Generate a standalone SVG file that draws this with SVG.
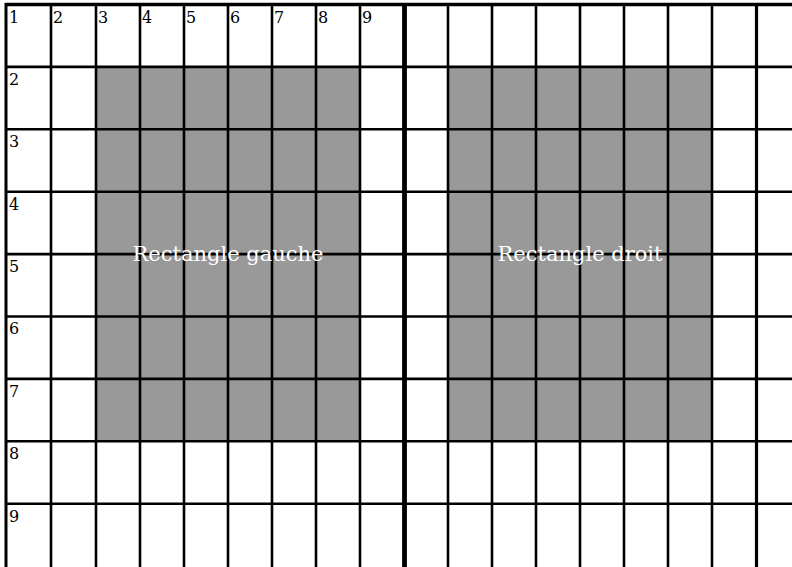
<svg xmlns="http://www.w3.org/2000/svg" width="792" height="567" viewBox="0 0 792 567">
<style>
.bg{fill:#ffffff}
.fill{fill:#999999}
.ln{stroke:#000000;stroke-width:2.6;fill:none}
.lab{font-family:"DejaVu Serif","Liberation Serif",serif;font-size:16px;fill:#000000}
.big{font-family:"DejaVu Serif","Liberation Serif",serif;font-size:21px;fill:#ffffff;text-anchor:middle}
</style>
<rect class="bg" x="0" y="0" width="792" height="567"/>
<g id="rect-gauche"><rect class="fill" x="96" y="67" width="264" height="374.3"/></g>
<g id="rect-droit"><rect class="fill" x="448" y="67" width="264" height="374.3"/></g>
<g id="grid">
<line class="ln" x1="5" y1="4.5" x2="792" y2="4.5" style="stroke-width:3.5"/>
<line class="ln" x1="5" y1="66.9" x2="792" y2="66.9"/>
<line class="ln" x1="5" y1="129.3" x2="792" y2="129.3"/>
<line class="ln" x1="5" y1="191.7" x2="792" y2="191.7"/>
<line class="ln" x1="5" y1="254.1" x2="792" y2="254.1"/>
<line class="ln" x1="5" y1="316.5" x2="792" y2="316.5"/>
<line class="ln" x1="5" y1="378.9" x2="792" y2="378.9"/>
<line class="ln" x1="5" y1="441.3" x2="792" y2="441.3"/>
<line class="ln" x1="5" y1="503.7" x2="792" y2="503.7"/>
<line class="ln" x1="6" y1="3" x2="6" y2="567" style="stroke-width:3"/>
<line class="ln" x1="51" y1="3" x2="51" y2="567"/>
<line class="ln" x1="96" y1="3" x2="96" y2="567"/>
<line class="ln" x1="140" y1="3" x2="140" y2="567"/>
<line class="ln" x1="184" y1="3" x2="184" y2="567"/>
<line class="ln" x1="228" y1="3" x2="228" y2="567"/>
<line class="ln" x1="272" y1="3" x2="272" y2="567"/>
<line class="ln" x1="316" y1="3" x2="316" y2="567"/>
<line class="ln" x1="360" y1="3" x2="360" y2="567"/>
<line class="ln" x1="404.5" y1="3" x2="404.5" y2="567" style="stroke-width:4.8"/>
<line class="ln" x1="448" y1="3" x2="448" y2="567"/>
<line class="ln" x1="492" y1="3" x2="492" y2="567"/>
<line class="ln" x1="536" y1="3" x2="536" y2="567"/>
<line class="ln" x1="580" y1="3" x2="580" y2="567"/>
<line class="ln" x1="624" y1="3" x2="624" y2="567"/>
<line class="ln" x1="668" y1="3" x2="668" y2="567"/>
<line class="ln" x1="712" y1="3" x2="712" y2="567"/>
<line class="ln" x1="756.5" y1="3" x2="756.5" y2="567" style="stroke-width:3.2"/>
</g>
<g id="labels">
<text class="lab" x="9" y="23">1</text>
<text class="lab" x="53" y="23">2</text>
<text class="lab" x="98" y="23">3</text>
<text class="lab" x="142" y="23">4</text>
<text class="lab" x="186" y="23">5</text>
<text class="lab" x="230" y="23">6</text>
<text class="lab" x="274" y="23">7</text>
<text class="lab" x="318" y="23">8</text>
<text class="lab" x="362" y="23">9</text>
<text class="lab" x="9" y="85">2</text>
<text class="lab" x="9" y="147">3</text>
<text class="lab" x="9" y="210">4</text>
<text class="lab" x="9" y="272">5</text>
<text class="lab" x="9" y="334">6</text>
<text class="lab" x="9" y="397">7</text>
<text class="lab" x="9" y="459">8</text>
<text class="lab" x="9" y="522">9</text>
<text class="big" x="228" y="261">Rectangle gauche</text>
<text class="big" x="580" y="261">Rectangle droit</text>
</g>
</svg>
